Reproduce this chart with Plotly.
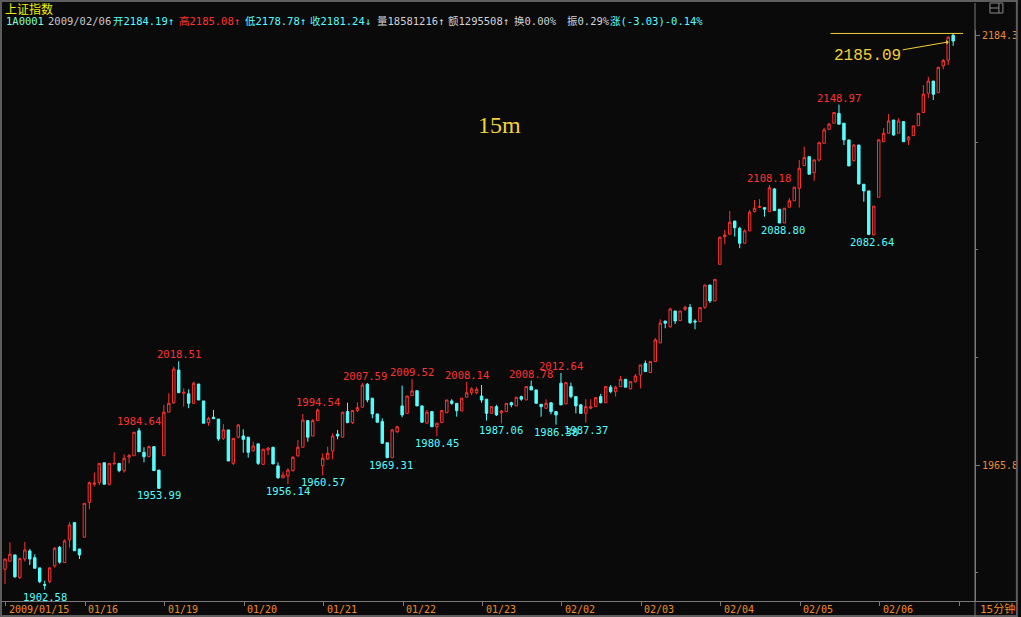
import plotly.graph_objects as go

# ---------------- data (15-minute bars, 16 per trading day) ----------------
day_labels = ["2009/01/15", "01/16", "01/19", "01/20", "01/21", "01/22",
              "01/23", "02/02", "02/03", "02/04", "02/05", "02/06"]
bars_per_day = 16

open_ = [
    1912.9, 1917.0, 1920.2, 1908.6, 1918.1, 1922.2, 1918.8, 1913.6, 1905.1, 1906.6, 1914.6, 1924.1, 1916.3, 1927.8, 1936.6, 1923.2,
    1929.2, 1946.9, 1956.1, 1956.9, 1967.0, 1956.1, 1966.4, 1966.7, 1963.0, 1969.9, 1970.6, 1983.3, 1972.3, 1970.1, 1975.2, 1963.3,
    1970.6, 1992.7, 1997.5, 2014.1, 2002.3, 2002.0, 1997.2, 2007.0, 1998.4, 1987.4, 1990.1, 1989.2, 1979.4, 1983.7, 1966.7, 1980.0,
    1980.6, 1980.0, 1973.1, 1976.6, 1966.2, 1973.5, 1974.9, 1965.4, 1959.4, 1960.3, 1963.0, 1970.5, 1974.9, 1988.4, 1980.6, 1988.4,
    1965.5, 1968.9, 1973.0, 1981.5, 1980.0, 1993.0, 1987.4, 1993.5, 1995.2, 2006.9, 1999.8, 1991.8, 1987.9, 1977.2, 1969.6, 1982.8,
    1995.9, 1992.1, 2001.1, 2003.6, 1995.9, 1987.1, 1993.0, 1985.3, 1987.4, 1992.4, 1998.4, 1997.2, 1993.3, 2000.3, 2002.6, 2002.6,
    2000.9, 1999.3, 1992.1, 1995.5, 1992.4, 1993.0, 1997.5, 1995.9, 2000.6, 1998.9, 2005.7, 2004.0, 1996.7, 1994.7, 1997.5, 1993.0,
    2007.4, 1996.9, 2005.7, 2000.6, 1996.4, 1992.1, 1994.7, 1995.5, 2000.6, 1997.5, 2005.4, 2003.1, 2005.7, 2009.4, 2004.5, 2008.2,
    2011.6, 2017.5, 2012.8, 2018.4, 2027.9, 2039.0, 2036.1, 2044.1, 2039.2, 2045.0, 2046.0, 2039.0, 2038.7, 2046.0, 2057.3, 2049.2,
    2067.8, 2081.9, 2083.1, 2089.8, 2086.1, 2078.5, 2084.8, 2094.6, 2096.6, 2096.6, 2094.6, 2106.1, 2095.8, 2088.8, 2096.8, 2100.1,
    2106.4, 2117.9, 2122.5, 2114.4, 2120.8, 2129.3, 2136.4, 2139.5, 2144.5, 2139.5, 2131.0, 2120.5, 2128.4, 2108.5, 2105.1, 2082.7,
    2101.9, 2130.1, 2134.4, 2141.1, 2134.4, 2140.3, 2131.0, 2133.2, 2138.2, 2144.9, 2154.7, 2160.9, 2155.0, 2168.6, 2171.6, 2184.19,
]
high = [
    1918.1, 1926.6, 1920.2, 1918.8, 1926.8, 1923.2, 1920.5, 1913.6, 1907.1, 1913.6, 1924.1, 1924.7, 1928.1, 1936.8, 1936.6, 1923.2,
    1946.4, 1957.4, 1962.0, 1966.7, 1967.0, 1966.7, 1972.3, 1966.7, 1971.3, 1971.5, 1982.5, 1984.64, 1974.9, 1975.7, 1975.2, 1963.3,
    1996.4, 2002.3, 2015.8, 2018.51, 2004.8, 2004.3, 2008.2, 2007.0, 1998.4, 1990.4, 1993.8, 1989.2, 1986.6, 1983.7, 1979.4, 1986.7,
    1984.0, 1980.0, 1977.7, 1976.6, 1973.9, 1974.9, 1974.9, 1967.2, 1962.5, 1964.2, 1970.5, 1978.6, 1991.8, 1988.4, 1989.2, 1994.54,
    1971.8, 1975.2, 1982.0, 1983.7, 1992.7, 1997.5, 1993.8, 1997.7, 2007.59, 2007.5, 1999.8, 1991.8, 1989.6, 1977.2, 1984.2, 1985.8,
    2006.2, 2000.9, 2009.52, 2003.6, 1995.9, 1993.8, 1993.0, 1987.1, 1993.5, 1998.9, 1999.3, 1997.2, 1999.8, 2008.14, 2005.4, 2005.4,
    2006.5, 1999.3, 1995.5, 1996.4, 1993.8, 1997.2, 1998.0, 2000.3, 2001.1, 2005.7, 2008.78, 2004.0, 1996.7, 1999.3, 1997.5, 1993.0,
    2012.64, 2007.7, 2007.7, 2000.6, 1996.9, 1999.3, 1999.3, 2000.1, 2002.0, 2005.7, 2006.5, 2006.0, 2011.1, 2009.4, 2008.2, 2012.1,
    2016.7, 2018.9, 2018.4, 2030.4, 2039.9, 2039.0, 2045.8, 2044.1, 2044.1, 2046.7, 2047.7, 2039.9, 2045.8, 2057.3, 2057.3, 2060.2,
    2081.6, 2085.3, 2094.9, 2089.8, 2086.9, 2085.6, 2095.4, 2100.5, 2100.9, 2096.9, 2108.18, 2106.6, 2095.8, 2096.3, 2101.4, 2107.0,
    2120.8, 2127.6, 2122.5, 2121.2, 2130.1, 2137.2, 2139.8, 2144.9, 2148.97, 2139.5, 2131.0, 2128.9, 2128.4, 2108.5, 2105.1, 2097.4,
    2131.5, 2136.9, 2144.2, 2141.1, 2142.0, 2140.3, 2133.0, 2138.1, 2144.5, 2158.9, 2163.1, 2160.9, 2167.9, 2172.1, 2183.8, 2185.08,
]
low = [
    1905.4, 1917.0, 1908.5, 1908.1, 1916.8, 1915.1, 1913.4, 1905.8, 1902.58, 1905.8, 1913.7, 1915.7, 1916.3, 1923.9, 1922.3, 1918.1,
    1929.2, 1943.4, 1954.9, 1955.7, 1956.1, 1955.4, 1966.4, 1962.2, 1962.0, 1966.7, 1970.6, 1972.6, 1967.2, 1969.9, 1963.0, 1953.99,
    1970.6, 1992.7, 1996.9, 2002.6, 1995.5, 1994.7, 1997.2, 1998.9, 1987.1, 1985.8, 1989.4, 1978.1, 1978.6, 1967.9, 1965.9, 1979.4,
    1972.1, 1969.6, 1972.6, 1965.9, 1965.9, 1970.9, 1966.4, 1958.8, 1959.1, 1956.14, 1962.5, 1970.1, 1974.9, 1977.7, 1980.6, 1988.4,
    1960.57, 1968.4, 1968.8, 1978.9, 1980.0, 1987.1, 1986.7, 1992.7, 1995.2, 1997.7, 1989.6, 1987.6, 1976.9, 1969.31, 1969.6, 1982.0,
    1990.1, 1992.1, 2001.1, 1995.9, 1987.6, 1987.1, 1985.3, 1980.45, 1987.4, 1992.4, 1996.4, 1990.4, 1993.3, 2000.3, 2001.4, 2001.9,
    1997.5, 1988.4, 1992.1, 1990.8, 1987.06, 1993.0, 1995.2, 1995.9, 1998.5, 1998.9, 2004.0, 1997.2, 1990.4, 1994.2, 1991.6, 1986.38,
    1996.4, 1996.9, 1999.8, 1992.1, 1991.8, 1987.37, 1994.2, 1995.5, 1997.2, 1997.5, 2002.3, 2000.6, 2005.7, 2005.4, 2004.5, 2007.7,
    2004.8, 2013.3, 2012.8, 2018.4, 2027.9, 2035.3, 2035.6, 2037.5, 2039.2, 2044.1, 2037.5, 2034.8, 2038.7, 2045.1, 2048.2, 2049.2,
    2067.8, 2078.0, 2083.1, 2081.9, 2076.0, 2078.5, 2084.8, 2094.1, 2096.6, 2092.0, 2094.6, 2095.1, 2088.80, 2088.8, 2096.8, 2100.1,
    2096.6, 2117.8, 2113.6, 2110.2, 2120.0, 2129.3, 2136.1, 2139.5, 2139.0, 2128.4, 2117.8, 2120.0, 2108.6, 2099.6, 2082.64, 2082.7,
    2101.9, 2130.1, 2134.4, 2133.2, 2134.4, 2130.1, 2128.4, 2133.2, 2138.2, 2144.9, 2152.2, 2151.3, 2155.0, 2166.9, 2169.1, 2178.78,
]
close = [
    1918.1, 1920.5, 1909.1, 1918.3, 1922.7, 1918.1, 1913.4, 1906.6, 1904.8, 1913.6, 1923.6, 1916.5, 1927.3, 1935.4, 1922.3, 1920.2,
    1946.4, 1956.9, 1956.7, 1966.7, 1956.1, 1966.7, 1966.7, 1963.0, 1969.3, 1970.6, 1982.5, 1972.6, 1970.1, 1975.2, 1963.0, 1954.0,
    1992.7, 1997.2, 2014.6, 2002.6, 2002.8, 1997.2, 2007.4, 1998.9, 1987.1, 1989.6, 1989.4, 1979.1, 1983.7, 1967.9, 1979.4, 1986.2,
    1978.9, 1972.3, 1975.5, 1966.7, 1973.9, 1974.5, 1966.4, 1959.4, 1960.8, 1963.3, 1969.8, 1974.9, 1988.7, 1980.0, 1988.4, 1993.8,
    1969.3, 1971.8, 1980.6, 1980.6, 1992.7, 1987.4, 1993.5, 1995.0, 2006.5, 1998.9, 1991.8, 1987.6, 1976.9, 1969.6, 1983.7, 1985.3,
    1991.3, 2000.9, 2003.5, 1995.9, 1987.6, 1992.7, 1985.3, 1987.1, 1993.5, 1998.9, 1997.2, 1993.5, 1999.8, 2002.6, 2004.5, 2004.3,
    1998.9, 1992.1, 1995.5, 1991.3, 1993.3, 1997.2, 1996.4, 2000.3, 1999.3, 2005.7, 2004.0, 1997.2, 1995.5, 1997.2, 1993.0, 1991.3,
    1996.4, 2007.7, 2000.6, 1995.9, 1992.1, 1995.5, 1995.5, 2000.1, 1997.5, 2005.7, 2003.1, 2005.4, 2009.4, 2005.4, 2008.2, 2011.1,
    2016.7, 2013.3, 2018.4, 2029.4, 2037.9, 2037.9, 2045.1, 2039.0, 2044.1, 2046.0, 2038.2, 2038.5, 2045.8, 2057.3, 2049.2, 2060.2,
    2081.6, 2082.7, 2089.2, 2086.4, 2078.5, 2084.8, 2094.3, 2096.3, 2097.1, 2095.8, 2106.7, 2095.1, 2088.80, 2096.3, 2100.1, 2107.0,
    2116.6, 2122.0, 2113.6, 2120.8, 2129.6, 2136.1, 2139.0, 2144.9, 2139.0, 2131.0, 2117.8, 2128.4, 2108.6, 2105.1, 2083.0, 2097.4,
    2131.0, 2134.4, 2140.6, 2133.5, 2140.6, 2130.1, 2132.4, 2138.1, 2144.5, 2154.3, 2160.9, 2154.2, 2167.9, 2171.3, 2183.2, 2181.24,
]

# bars whose high / low is marked with its value
marked_highs = [27, 35, 63, 72, 82, 93, 106, 112, 154, 168]
marked_lows = [8, 31, 57, 64, 77, 87, 100, 111, 117, 156, 174]

axis_labels = [2184.3, 1965.8]
axis_minor = [2129.7, 2075.1, 2020.5, 1911.2]

header_title = "上证指数"
header_items = [
    ("1A0001", "#7dffd2"), ("2009/02/06", "#c8c8c8"),
    ("开2184.19↑", "#54ffff"), ("高2185.08↑", "#ff3232"),
    ("低2178.78↑", "#54ffff"), ("收2181.24↓", "#54ffff"),
    ("量18581216↑", "#d2d2d2"), ("额1295508↑", "#d2d2d2"),
    ("换0.00%", "#d2d2d2"), ("振0.29%", "#d2d2d2"),
    ("涨(-3.03)-0.14%", "#54ffff"),
]
header_x = [4, 46, 111, 178, 244, 309, 376, 447, 514, 567, 610]
marked_price = 2185.09

# ---------------- styling ----------------
BG = "#0a0a0a"
RED = "#ff3232"
CYAN = "#54ffff"
ORANGE = "#ee8a2a"
YELLOW = "#f2d236"
LINE = "#7a7a7a"
BORDER = "#5e5e5e"
MONO = "DejaVu Sans Mono, Noto Sans CJK SC"

W, H = 1021, 617
ML, MR, MT, MB = 3, 43, 30, 16
PW, PH = W - ML - MR, H - MT - MB


def px(xp):
    return (xp - ML) / PW


def py(yp):
    return (H - MB - yp) / PH


xs = list(range(len(close)))

fig = go.Figure(go.Candlestick(
    x=xs, open=open_, high=high, low=low, close=close,
    increasing=dict(line=dict(color=RED, width=1), fillcolor=BG),
    decreasing=dict(line=dict(color=CYAN, width=1), fillcolor=CYAN),
    whiskerwidth=0, hoverinfo="skip", showlegend=False,
))

ann = []
# high / low value labels
xshift_map = {72: 3, 77: 4, 156: 4, 174: 3}
for i in marked_highs:
    ann.append(dict(x=i, y=high[i], xref="x", yref="y", text=f"{high[i]:.2f}",
                    showarrow=False, xanchor="center", yanchor="middle", yshift=7,
                    xshift=xshift_map.get(i, 0),
                    font=dict(family=MONO, size=10.5, color=RED)))
for i in marked_lows:
    ann.append(dict(x=i, y=low[i], xref="x", yref="y", text=f"{low[i]:.2f}",
                    showarrow=False, xanchor="center", yanchor="middle", yshift=-7,
                    xshift=xshift_map.get(i, 0),
                    font=dict(family=MONO, size=10.5, color=CYAN)))

# date labels along the bottom
for d, lab in enumerate(day_labels):
    ann.append(dict(x=d * bars_per_day + 0.2, y=py(609), xref="x", yref="paper",
                    text=lab, showarrow=False, xanchor="left", yanchor="middle",
                    xshift=1, font=dict(family=MONO, size=10, color=ORANGE)))
ann.append(dict(x=px(981), y=py(609), xref="paper", yref="paper", text="15分钟",
                showarrow=False, xanchor="left", yanchor="middle",
                font=dict(family=MONO, size=11, color=ORANGE)))

# header
ann.append(dict(x=px(3), y=py(8), xref="paper", yref="paper", text=header_title,
                showarrow=False, xanchor="left", yanchor="middle",
                font=dict(family="Noto Sans CJK SC", size=12, color="#f0f000")))
for (txt, col), hx in zip(header_items, header_x):
    ann.append(dict(x=px(hx), y=py(21), xref="paper", yref="paper", text=txt,
                    showarrow=False, xanchor="left", yanchor="middle",
                    font=dict(family=MONO, size=10.5, color=col)))

# user drawings: "15m" and the marked high with arrow
ann.append(dict(x=px(501), y=py(125), xref="paper", yref="paper", text="15m",
                showarrow=False, xanchor="center", yanchor="middle",
                font=dict(family="Liberation Serif", size=24, color=YELLOW)))
ann.append(dict(x=190.1, y=2180.8, xref="x", yref="y", text=f"{marked_price:.2f}",
                showarrow=True, ax=-81, ay=14, arrowcolor=YELLOW, arrowwidth=1,
                arrowhead=1, arrowsize=0.8, standoff=0,
                font=dict(family="Liberation Mono", size=16, color=YELLOW)))

shapes = [
    # marked-high horizontal line
    dict(type="line", xref="x", yref="y", x0=166.3, x1=193.0, y0=marked_price, y1=marked_price,
         line=dict(color=YELLOW, width=1)),
    # frame and separators
    dict(type="line", xref="paper", yref="paper", x0=px(0), x1=px(1021), y0=py(1), y1=py(1),
         line=dict(color=BORDER, width=2)),
    dict(type="line", xref="paper", yref="paper", x0=px(0), x1=px(1021), y0=py(616), y1=py(616),
         line=dict(color=BORDER, width=2)),
    dict(type="line", xref="paper", yref="paper", x0=px(1), x1=px(1), y0=py(0), y1=py(617),
         line=dict(color=BORDER, width=2)),
    dict(type="line", xref="paper", yref="paper", x0=px(1020), x1=px(1020), y0=py(0), y1=py(617),
         line=dict(color=BORDER, width=2)),
    dict(type="line", xref="paper", yref="paper", x0=px(978), x1=px(978), y0=py(3), y1=py(617),
         line=dict(color=LINE, width=1)),
    dict(type="line", xref="paper", yref="paper", x0=px(1), x1=px(1020), y0=py(601.5), y1=py(601.5),
         line=dict(color=LINE, width=1)),
    # small window icon, top right
    dict(type="rect", xref="paper", yref="paper", x0=px(993), x1=px(1006), y0=py(3), y1=py(13),
         line=dict(color="#8a8a8a", width=1)),
    dict(type="line", xref="paper", yref="paper", x0=px(993), x1=px(1002), y0=py(8), y1=py(8),
         line=dict(color="#8a8a8a", width=1)),
    dict(type="line", xref="paper", yref="paper", x0=px(1002), x1=px(1002), y0=py(3), y1=py(13),
         line=dict(color="#8a8a8a", width=1)),
]

fig.update_layout(
    width=W, height=H,
    margin=dict(l=ML, r=MR, t=MT, b=MB, pad=0),
    paper_bgcolor=BG, plot_bgcolor=BG,
    annotations=ann, shapes=shapes,
    hovermode=False, showlegend=False,
    boxgap=0.3,
)
fig.update_xaxes(
    range=[-0.4, 195.4], rangeslider_visible=False, showgrid=False, zeroline=False,
    showline=False, ticks="outside", ticklen=4, tickcolor=LINE,
    tickvals=[d * bars_per_day + 0.2 for d in range(len(day_labels) + 1)],
    showticklabels=False, fixedrange=True,
)
fig.update_yaxes(
    side="right", range=[1896.78, 2186.84], showgrid=False, zeroline=False,
    showline=True, linecolor=LINE, linewidth=1, ticks="outside", ticklen=4, tickcolor=LINE,
    tickvals=axis_labels, ticktext=[f"{v:.1f}" for v in axis_labels],
    tickfont=dict(family=MONO, size=10, color=ORANGE),
    minor=dict(tickvals=axis_minor, ticks="outside", ticklen=2, tickcolor=LINE),
    fixedrange=True,
)

fig.write_html(
    "out.html",
    config={"displayModeBar": False, "staticPlot": True},
    post_script="document.body.style.margin='0px';document.body.style.background='#0a0a0a';",
)
